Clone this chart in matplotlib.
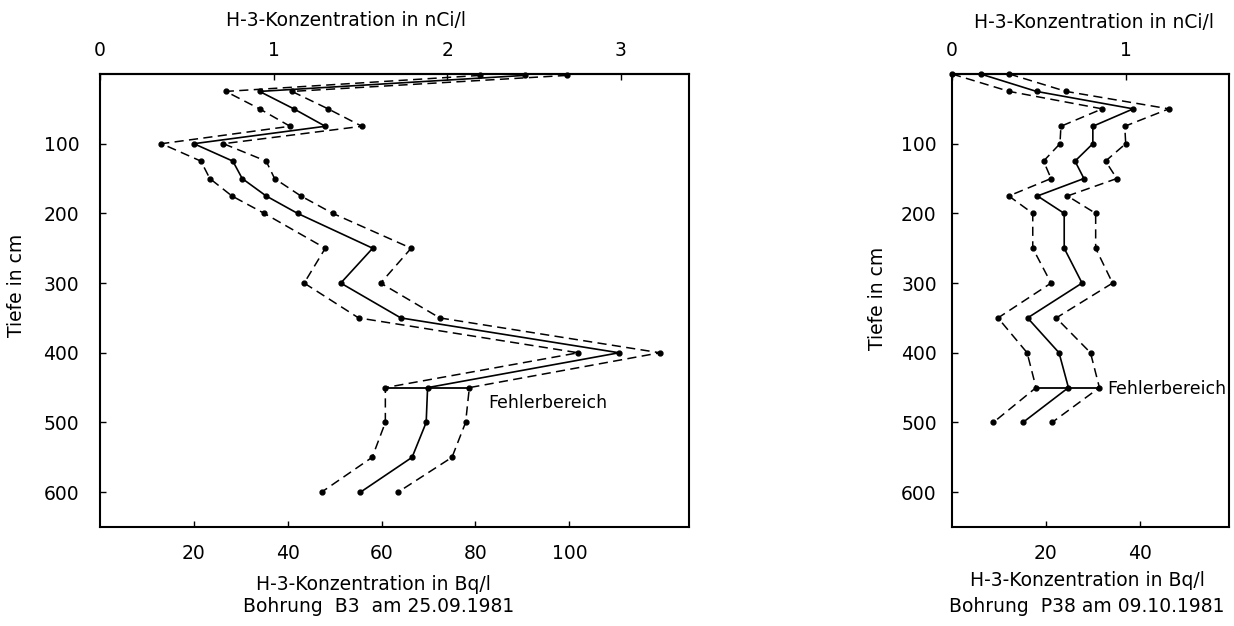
import matplotlib
matplotlib.use("Agg")
import matplotlib.pyplot as plt

plt.rcParams['font.family'] = ['DejaVu Sans']
plt.rcParams['font.size'] = 13.5

# Bohrung B3 (Bq/l je Tiefe in cm)
b3_tiefe = [2, 25, 50, 75, 100, 125, 150, 175, 200, 250, 300, 350, 400, 450, 500, 550, 600]
b3_unten = [81, 26.8, 34, 40.5, 13.1, 21.5, 23.4, 28.1, 35, 48, 43.5, 55.1, 101.9, 60.8, 60.8, 58, 47.2]
b3_mitte = [90.5, 34, 41.3, 48, 20, 28.3, 30.3, 35.4, 42.1, 58.1, 51.3, 64.1, 110.6, 69.8, 69.5, 66.5, 55.5]
b3_oben = [99.5, 40.9, 48.6, 55.8, 26.3, 35.4, 37.2, 42.8, 49.6, 66.3, 59.8, 72.4, 119.3, 78.7, 77.9, 75, 63.5]

# Bohrung P38
p38_tiefe = [0, 25, 50, 75, 100, 125, 150, 175, 200, 250, 300, 350, 400, 450, 500]
p38_unten = [0, 12.2, 32, 23.2, 23, 19.5, 21.1, 12.1, 17.2, 17.2, 21.1, 9.8, 16, 17.9, 8.8]
p38_mitte = [6.1, 18, 38.6, 30, 30, 26.2, 28.1, 18.2, 23.9, 23.9, 27.7, 16.1, 22.8, 24.8, 15.1]
p38_oben = [12.2, 24.3, 46.2, 36.8, 37, 32.7, 35.1, 24.6, 30.6, 30.6, 34.2, 22.2, 29.5, 31.4, 21.3]

tiefe_ticks = [100, 200, 300, 400, 500, 600]
BQ_PRO_NCI = 37.0

W, H = 1234, 626
fig = plt.figure(figsize=(W / 100, H / 100), dpi=100)


def box(x0, y0, x1, y1):
    return [x0 / W, 1 - y1 / H, (x1 - x0) / W, (y1 - y0) / H]


def profil(ax, tiefe, unten, mitte, oben, i_fehler, xmax, bq_ticks, nci_ticks, ypad):
    dash = dict(color='black', lw=1.1, ls=(0, (6, 3.5)), marker='o', ms=3.5, clip_on=False)
    ax.plot(unten, tiefe, **dash)
    ax.plot(oben, tiefe, **dash)
    ax.plot(mitte, tiefe, color='black', lw=1.2, marker='o', ms=3.5, clip_on=False)
    # Fehlerbalken in einer Tiefe
    ax.plot([unten[i_fehler], oben[i_fehler]], [tiefe[i_fehler]] * 2, color='black', lw=1.3)

    ax.set_xlim(0, xmax)
    ax.set_ylim(650, 0)
    ax.set_xticks(bq_ticks)
    ax.set_yticks(tiefe_ticks)
    ax.tick_params(direction='in', length=4, width=1)
    ax.tick_params(axis='x', pad=12)
    ax.tick_params(axis='y', pad=ypad)
    for s in ax.spines.values():
        s.set_linewidth(1.5)

    top = ax.secondary_xaxis('top', functions=(lambda v: v / BQ_PRO_NCI, lambda v: v * BQ_PRO_NCI))
    top.set_xticks(nci_ticks)
    top.set_xticklabels([str(t) for t in nci_ticks])
    top.tick_params(direction='in', length=4, width=1, pad=10)
    top.spines['top'].set_linewidth(1.5)


ax1 = fig.add_axes(box(100, 74, 689, 527))
profil(ax1, b3_tiefe, b3_unten, b3_mitte, b3_oben, 13, 125.5,
       [20, 40, 60, 80, 100], [0, 1, 2, 3], 15)
ax1.text(82.7, 472, 'Fehlerbereich', va='center', ha='left', fontsize=12.5)

ax2 = fig.add_axes(box(952, 74, 1229, 527))
profil(ax2, p38_tiefe, p38_unten, p38_mitte, p38_oben, 13, 59,
       [20, 40], [0, 1], 11)
ax2.text(33.0, 452, 'Fehlerbereich', va='center', ha='left', fontsize=12.5, clip_on=False)


def ftext(x, y, s, **kw):
    fig.text(x / W, 1 - y / H, s, ha='center', va='center', **kw)


ftext(346, 21, 'H-3-Konzentration in nCi/l')
ftext(373, 585, 'H-3-Konzentration in Bq/l')
ftext(379, 607, 'Bohrung  B3  am 25.09.1981')
ftext(17, 285, 'Tiefe in cm', rotation=90)

ftext(1094, 23, 'H-3-Konzentration in nCi/l')
ftext(1087, 580, 'H-3-Konzentration in Bq/l')
ftext(1087, 606, 'Bohrung  P38 am 09.10.1981')
ftext(877, 298, 'Tiefe in cm', rotation=90)

fig.savefig('out.png', dpi=100, facecolor='white')
